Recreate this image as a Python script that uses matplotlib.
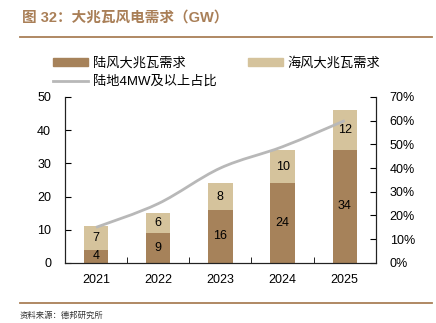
import numpy as np
import matplotlib.pyplot as plt
from matplotlib.path import Path
from matplotlib.patches import PathPatch, Patch
from matplotlib.lines import Line2D
from matplotlib.ticker import PercentFormatter

plt.rcParams['font.family'] = ['Liberation Sans', 'Noto Sans CJK SC', 'DejaVu Sans']

years = ['2021', '2022', '2023', '2024', '2025']
onshore = [4, 9, 16, 24, 34]
offshore = [7, 6, 8, 10, 12]
share = [15, 25, 40, 49, 60]  # %

c_dark = '#a6825a'
c_light = '#d5c39c'
c_line = '#b8b8b8'
c_brown = '#a97f57'

fig = plt.figure(figsize=(4.36, 3.23), dpi=100)
ax = fig.add_axes([0.149, 0.186, 0.713, 0.514])
ax2 = ax.twinx()

x = np.arange(len(years))
w = 0.39
ax.bar(x, onshore, w, color=c_dark, zorder=2)
ax.bar(x, offshore, w, bottom=onshore, color=c_light, zorder=2)
for i in range(len(years)):
    ax.text(x[i], onshore[i] / 2, str(onshore[i]), ha='center', va='center', fontsize=9)
    ax.text(x[i], onshore[i] + offshore[i] / 2, str(offshore[i]), ha='center', va='center', fontsize=9)

# smooth line through the points (Catmull-Rom as cubic bezier)
pts = np.column_stack([x, share]).astype(float)
verts = [pts[0]]
codes = [Path.MOVETO]
for i in range(len(pts) - 1):
    p0 = pts[max(i - 1, 0)]
    p1 = pts[i]
    p2 = pts[i + 1]
    p3 = pts[min(i + 2, len(pts) - 1)]
    verts += [p1 + (p2 - p0) / 6, p2 - (p3 - p1) / 6, p2]
    codes += [Path.CURVE4] * 3
ax2.add_patch(PathPatch(Path(verts, codes), fc='none', ec=c_line, lw=2, zorder=3))

ax.set_xlim(-0.5, 4.5)
ax.set_ylim(0, 50)
ax2.set_ylim(0, 70)
ax.set_yticks(range(0, 51, 10))
ax2.set_yticks(range(0, 71, 10))
ax2.yaxis.set_major_formatter(PercentFormatter(decimals=0))
ax.set_xticks(x)
ax.set_xticklabels(years)
ax.set_xticks(np.arange(0.5, 4.5, 1), minor=True)
ax.tick_params(axis='x', which='major', length=0, pad=8, labelsize=9)
ax.tick_params(axis='x', which='minor', direction='in', length=4)
ax.tick_params(axis='y', direction='in', length=4, labelsize=9, pad=10)
ax2.tick_params(axis='y', direction='in', length=4, labelsize=9, pad=10)
for a in (ax, ax2):
    a.spines['top'].set_visible(False)
    for s in ('left', 'right', 'bottom'):
        a.spines[s].set_color('#222222')

handles = [Patch(color=c_dark), Line2D([], [], color=c_line, lw=2), Patch(color=c_light)]
labels = ['陆风大兆瓦需求', '陆地4MW及以上占比', '海风大兆瓦需求']
fig.legend(handles, labels, ncol=2, loc='upper left', bbox_to_anchor=(0.095, 0.86),
           frameon=False, fontsize=9.5, handlelength=2.6, handleheight=0.6,
           columnspacing=2.4, labelspacing=0.45, handletextpad=0.4)

fig.text(0.05, 0.945, '图 32：大兆瓦风电需求（GW）', color=c_brown, fontsize=10.5,
         fontweight='bold', va='center')
fig.add_artist(Line2D([0.046, 0.99], [0.885, 0.885], color=c_brown, lw=1.3))
fig.add_artist(Line2D([0.046, 0.99], [0.062, 0.062], color=c_brown, lw=1.3))
fig.text(0.046, 0.022, '资料来源：德邦研究所', fontsize=6, va='center', color='#333333')

fig.savefig('out.png', dpi=100)
